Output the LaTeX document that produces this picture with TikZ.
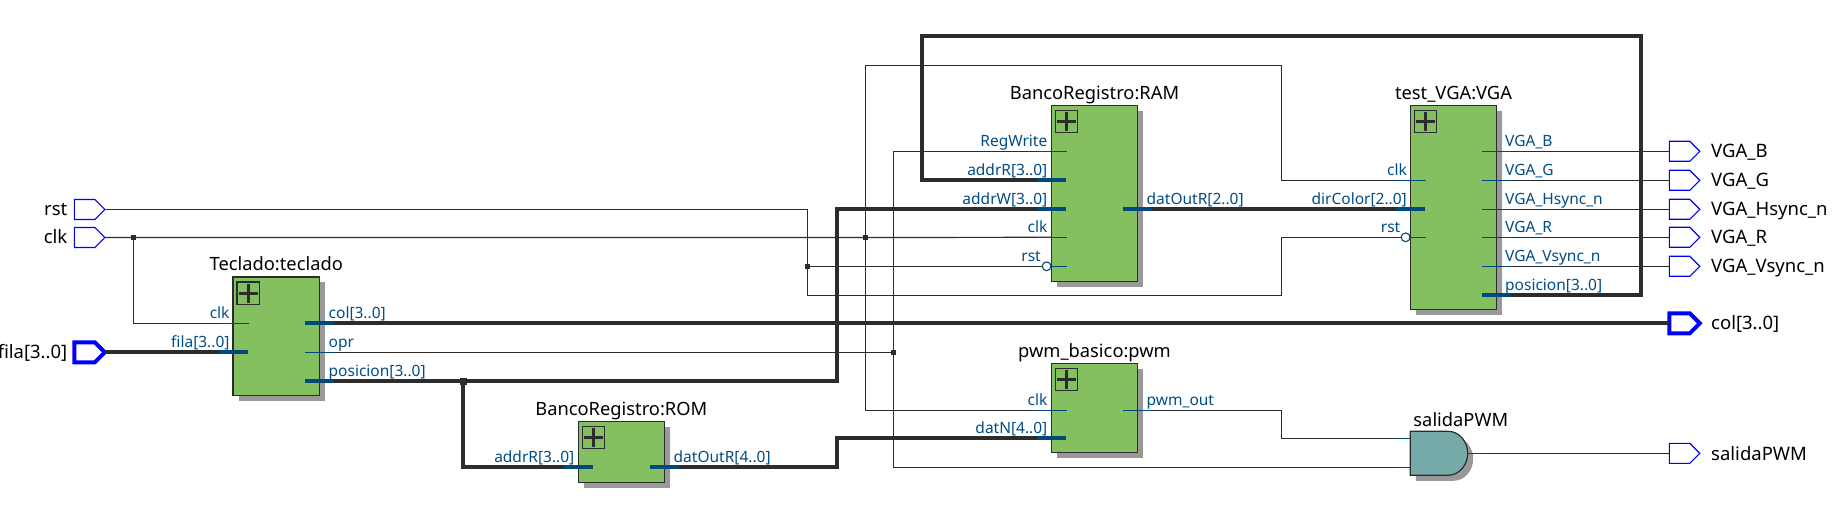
\documentclass[tikz,border=0pt]{standalone}
\usepackage{fontspec}
\setmainfont{Noto Sans}
\definecolor{wirec}{HTML}{2C2C2C}
\definecolor{stubc}{HTML}{00497A}
\definecolor{pinc}{HTML}{004D86}
\definecolor{blockc}{HTML}{84BF60}
\definecolor{gatec}{HTML}{75AAA9}
\definecolor{shadowc}{HTML}{999999}
\definecolor{portc}{HTML}{0000FF}
\tikzset{
  wire/.style={draw=wirec,line width=1.2pt},
  bus/.style={draw=wirec,line width=4pt,line join=miter},
  stub/.style={draw=stubc,line width=1.2pt},
  busstub/.style={draw=stubc,line width=4pt},
  blockbox/.style={fill=blockc,draw=wirec,line width=1.2pt},
  shadowbox/.style={fill=shadowc,draw=none},
  portshape/.style={draw=portc,line width=1.1pt,fill=white,line join=miter},
  busport/.style={draw=portc,line width=4pt,fill=white,line join=miter},
  title/.style={font=\fontsize{18.3}{18.3}\selectfont,text=black,inner sep=0pt,anchor=base},
  pinl/.style={font=\fontsize{15.5}{15.5}\selectfont,text=pinc,inner sep=0pt,anchor=base east},
  pinr/.style={font=\fontsize{15.5}{15.5}\selectfont,text=pinc,inner sep=0pt,anchor=base west},
  portl/.style={font=\fontsize{18.5}{18.5}\selectfont,text=black,inner sep=0pt,anchor=base east},
  portr/.style={font=\fontsize{18.5}{18.5}\selectfont,text=black,inner sep=0pt,anchor=base west},
  junction/.style={fill=wirec,draw=none},
  bubble/.style={draw=stubc,fill=white,line width=1.1pt},
}
% #1 name, #2 x0, #3 y0, #4 x1, #5 y1, #6 title
\newcommand{\hblock}[6]{%
  \fill[shadowbox] (#2+5.5,#3+5.5) rectangle (#4+5.5,#5+5.5);
  \path[blockbox] (#2,#3) rectangle (#4,#5);
  \coordinate (#1) at (#2,#3);
  \path[draw=wirec,line width=1.2pt] (#2+4,#3+5) rectangle (#2+26.3,#3+27.3);
  \path[draw=wirec,line width=3pt] (#2+5.6,#3+16.2) -- (#2+24.7,#3+16.2);
  \path[draw=wirec,line width=3pt] (#2+15.2,#3+6.6) -- (#2+15.2,#3+25.7);
  \node[title] (#1T) at ({(#2+#4)/2},#3-6) {#6};
}
% #1 name, #2 x, #3 y, #4 style
\newcommand{\hport}[4]{%
  \path[#4] (#2,#3-10) -- (#2+20.5,#3-10) -- (#2+30.5,#3) -- (#2+20.5,#3+10) -- (#2,#3+10) -- cycle;
  \coordinate (#1in) at (#2,#3);
  \coordinate (#1out) at (#2+30.5,#3);
}
\newcommand{\hgate}[3]{%
  \path[#3] (#1,#2) -- (#1+37.7,#2)
    .. controls (#1+48.6,#2) and (#1+57.4,#2+9.9) .. (#1+57.4,#2+22)
    .. controls (#1+57.4,#2+34.1) and (#1+48.6,#2+44) .. (#1+37.7,#2+44)
    -- (#1,#2+44) -- cycle;
}
\begin{document}
\begin{tikzpicture}[x=1pt,y=-1pt]
\useasboundingbox[fill=white] (0,0) rectangle (1837,521);
% named routing points
\coordinate (tkClk) at (233,323.3);
\coordinate (tkFila) at (233,352.3);
\coordinate (tkCol) at (319.5,323.3);
\coordinate (tkOpr) at (319.5,352.3);
\coordinate (tkPos) at (319.5,381.3);
\coordinate (ramWr) at (1051.3,151.3);
\coordinate (ramAR) at (1051.3,180.3);
\coordinate (ramAW) at (1051.3,209.3);
\coordinate (ramClk) at (1051.3,237.3);
\coordinate (ramRst) at (1051.3,266.3);
\coordinate (ramOut) at (1137.7,209.3);
\coordinate (vgaClk) at (1410.3,180.3);
\coordinate (vgaDir) at (1410.3,209.3);
\coordinate (vgaRst) at (1410.3,237.3);
\coordinate (vgaB) at (1496.7,151.3);
\coordinate (vgaG) at (1496.7,180.3);
\coordinate (vgaH) at (1496.7,209.3);
\coordinate (vgaR) at (1496.7,237.3);
\coordinate (vgaV) at (1496.7,266.3);
\coordinate (vgaPos) at (1496.7,295.3);
\coordinate (romIn) at (578.3,467.3);
\coordinate (romOut) at (664.3,467.3);
\coordinate (pwmClk) at (1051.3,410.3);
\coordinate (pwmDat) at (1051.3,438.3);
\coordinate (pwmOut) at (1137.7,410.3);
\coordinate (andA) at (1410.3,438.3);
\coordinate (andB) at (1410.3,467.3);
\coordinate (andOut) at (1467.7,453.3);
\coordinate (jClk) at (133.5,237.5);
\coordinate (jClk2) at (865.3,237.5);
\coordinate (jRst) at (807.3,266.3);
\coordinate (jOpr) at (893.3,352.3);
\coordinate (jPos) at (463.3,381.3);
% ports
\hport{rst}{74.3}{209.5}{portshape}
\hport{clk}{74.3}{237.5}{portshape}
\hport{fila}{74.3}{352.3}{busport}
\hport{oB}{1669.3}{151.3}{portshape}
\hport{oG}{1669.3}{180.3}{portshape}
\hport{oH}{1669.3}{209.3}{portshape}
\hport{oR}{1669.3}{237.3}{portshape}
\hport{oV}{1669.3}{266.3}{portshape}
\hport{oCol}{1669.3}{323.3}{busport}
\hport{oPwm}{1669.3}{453.3}{portshape}
% thin wires
\draw[wire] (rstout) -| (jRst) |- (1281.3,295.3) |- (vgaRst);
\draw[wire] (jRst) -- (ramRst);
\draw[wire] (clkout) -- (jClk) -- (jClk2) -- (ramClk);
\draw[wire] (jClk) |- (tkClk);
\draw[wire] (jClk2) -- (865.3,65.3) -| (1281.3,180.3) -- (vgaClk);
\draw[wire] (jClk2) |- (pwmClk);
\draw[wire] (tkOpr) -- (jOpr);
\draw[wire] (jOpr) |- (ramWr);
\draw[wire] (jOpr) |- (andB);
\draw[wire] (pwmOut) -| (1281.3,438.3) -- (andA);
\draw[wire] (andOut) -- (oPwmin);
\draw[wire] (vgaB) -- (oBin);
\draw[wire] (vgaG) -- (oGin);
\draw[wire] (vgaH) -- (oHin);
\draw[wire] (vgaR) -- (oRin);
\draw[wire] (vgaV) -- (oVin);
% buses
\draw[bus] (filaout) -- (tkFila);
\draw[bus] (tkCol) -- (oColin);
\draw[bus] (tkPos) -- (jPos) -- (836.7,381.3) -- (836.7,209.3) -- (ramAW);
\draw[bus] (jPos) |- (romIn);
\draw[bus] (romOut) -- (836.7,467.3) -- (836.7,438.3) -- (pwmDat);
\draw[bus] (ramOut) -- (vgaDir);
\draw[bus] (vgaPos) -| (1640.7,36.3) -| (922.3,180.3) -- (ramAR);
% junctions
\foreach \j in {jClk,jClk2,jRst,jOpr} \fill[junction] (\j) ++(-2.5,-2.5) rectangle ++(5,5);
\fill[junction] (jPos) ++(-3.5,-3.5) rectangle ++(7,7);
% blocks
\hblock{tk}{233}{277}{319.5}{395.5}{Teclado:teclado}
\hblock{ram}{1051.3}{105.3}{1137.7}{281.7}{BancoRegistro:RAM}
\hblock{vga}{1410.3}{105.3}{1496.7}{309.3}{test\_VGA:VGA}
\hblock{rom}{578.3}{421.3}{664.3}{482.3}{BancoRegistro:ROM}
\hblock{pwm}{1051.3}{363.3}{1137.7}{452.3}{pwm\_basico:pwm}
% AND gate
\hgate{1415.8}{436.8}{shadowbox}
\hgate{1410.3}{431.3}{fill=gatec,draw=wirec,line width=1.2pt}
\node[title] (andT) at (1460.8,426) {salidaPWM};
% pin stubs
\foreach \p in {tkClk,ramWr,ramClk,vgaClk,pwmClk} \draw[stub] (\p) ++(-14,0) -- ++(29.7,0);
\foreach \p in {andA,andB} \draw[stub] (\p) ++(-14,0) -- ++(14,0);
\foreach \p in {tkFila,ramAR,ramAW,vgaDir,romIn,pwmDat} \draw[busstub] (\p) ++(-14,0) -- ++(28.7,0);
\foreach \p in {tkOpr,vgaB,vgaG,vgaH,vgaR,vgaV,pwmOut} \draw[stub] (\p) ++(-14.7,0) -- ++(29,0);
\draw[stub] (andOut) -- ++(14,0);
\foreach \p in {tkCol,tkPos,ramOut,vgaPos,romOut} \draw[busstub] (\p) ++(-14.7,0) -- ++(29,0);
% reset pins with bubble
\foreach \p in {ramRst,vgaRst} {
  \draw[stub] (\p) ++(-4,0) -- ++(19.7,0);
  \draw[bubble] (\p) ++(-4.7,0) circle[radius=4.4];
}
% pin labels
\node[pinl] (l1) at (229.7,318.7) {clk};
\node[pinl] (l2) at (229.7,347.7) {fila[3..0]};
\node[pinr] (l3) at (328.5,318.7) {col[3..0]};
\node[pinr] (l4) at (328.5,347.7) {opr};
\node[pinr] (l5) at (328.5,376.7) {posicion[3..0]};
\node[pinl] (l6) at (1047.5,146.7) {RegWrite};
\node[pinl] (l7) at (1047.5,175.7) {addrR[3..0]};
\node[pinl] (l8) at (1047.5,204.7) {addrW[3..0]};
\node[pinl] (l9) at (1047.5,232.7) {clk};
\node[pinl] (l10) at (1041,261.7) {rst};
\node[pinr] (l11) at (1146.5,204.7) {datOutR[2..0]};
\node[pinl] (l12) at (1407,175.7) {clk};
\node[pinl] (l13) at (1407,204.7) {dirColor[2..0]};
\node[pinl] (l14) at (1400.5,232.7) {rst};
\node[pinr] (l15) at (1505,146.7) {VGA\_B};
\node[pinr] (l16) at (1505,175.7) {VGA\_G};
\node[pinr] (l17) at (1505,204.7) {VGA\_Hsync\_n};
\node[pinr] (l18) at (1505,232.7) {VGA\_R};
\node[pinr] (l19) at (1505,261.7) {VGA\_Vsync\_n};
\node[pinr] (l20) at (1505,290.7) {posicion[3..0]};
\node[pinl] (l21) at (574.5,462.7) {addrR[3..0]};
\node[pinr] (l22) at (673.5,462.7) {datOutR[4..0]};
\node[pinl] (l23) at (1047.5,405.7) {clk};
\node[pinl] (l24) at (1047.5,433.7) {datN[4..0]};
\node[pinr] (l25) at (1146.5,405.7) {pwm\_out};
% port labels
\node[portl] (p1) at (67.5,216) {rst};
\node[portl] (p2) at (67.5,244) {clk};
\node[portl] (p3) at (67.5,359) {fila[3..0]};
\node[portr] (p4) at (1711,158) {VGA\_B};
\node[portr] (p5) at (1711,187) {VGA\_G};
\node[portr] (p6) at (1711,216) {VGA\_Hsync\_n};
\node[portr] (p7) at (1711,244) {VGA\_R};
\node[portr] (p8) at (1711,273) {VGA\_Vsync\_n};
\node[portr] (p9) at (1711,330) {col[3..0]};
\node[portr] (p10) at (1711,460) {salidaPWM};
\end{tikzpicture}
\end{document}
